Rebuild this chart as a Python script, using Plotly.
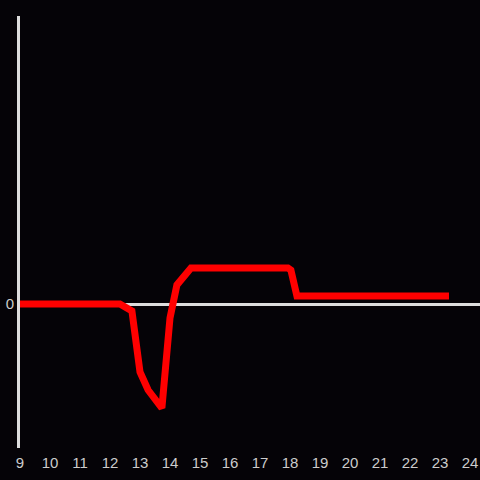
import plotly.graph_objects as go

x_vals = [9.0, 12.33, 12.73, 13.0, 13.27, 13.73, 14.0, 14.23, 14.7, 17.93, 18.03, 18.23, 23.3]
y_vals = [0.0, 0.0, -0.19, -1.89, -2.39, -2.89, -0.39, 0.53, 1.0, 1.0, 0.94, 0.22, 0.22]
x_ticks = list(range(9, 25))

fig = go.Figure(go.Scatter(x=x_vals, y=y_vals, mode="lines",
                           line=dict(color="#ff0000", width=7), hoverinfo="skip"))

fig.update_layout(
    width=480, height=480,
    margin=dict(l=20, r=0, t=16, b=32),
    paper_bgcolor="#050307", plot_bgcolor="#050307",
    showlegend=False,
    font=dict(family="Liberation Sans, Arial, sans-serif", size=15, color="#cccccc"),
    xaxis=dict(range=[9, 24.333], tickvals=x_ticks, ticktext=[str(t) for t in x_ticks],
               showgrid=False, zeroline=False, showline=False,
               ticks="outside", ticklen=0.5, tickcolor="rgba(0,0,0,0)"),
    yaxis=dict(range=[-4, 8], tickvals=[0], ticktext=["0"], showgrid=False,
               zeroline=True, zerolinecolor="#dddddd", zerolinewidth=3,
               showline=True, linecolor="#dddddd", linewidth=3, ticks=""),
)
fig.write_html("out.html", config={"displayModeBar": False},
               post_script="document.body.style.margin='0';document.body.style.overflow='hidden';")
